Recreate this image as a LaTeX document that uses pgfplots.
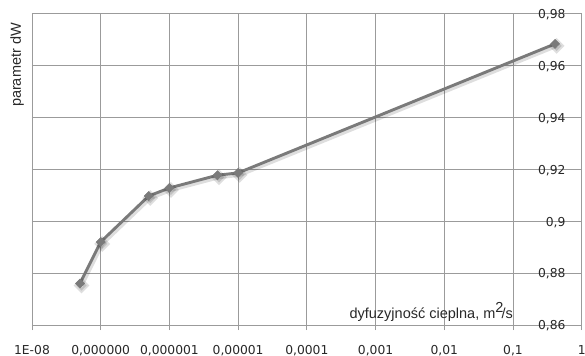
\documentclass[border=0pt]{standalone}
\usepackage{pgfplots}
\pgfplotsset{compat=1.18}
\usepackage{fontspec}
\setmainfont{DejaVu Sans}
\newfontfamily\titlefont{Liberation Sans}
\definecolor{gridc}{RGB}{155,155,155}
\definecolor{linec}{RGB}{122,122,122}
\definecolor{txt}{RGB}{40,40,40}
\begin{document}
\begin{tikzpicture}
\path[use as bounding box] (-32bp,-31bp) rectangle (553bp,325bp);
\begin{axis}[
  at={(0,0)}, anchor=south west,
  scale only axis,
  width=549.7bp, height=311.5bp,
  xmode=log,
  xmin=1e-8, xmax=1,
  ymin=0.86, ymax=0.98,
  xtick={1e-8,1e-7,1e-6,1e-5,1e-4,1e-3,1e-2,1e-1,1},
  xticklabels={1E-08,{0,000000},{0,000001},{0,00001},{0,0001},{0,001},{0,01},{0,1},1},
  ytick={0.86,0.88,0.90,0.92,0.94,0.96,0.98},
  yticklabels={{0,86},{0,88},{0,9},{0,92},{0,94},{0,96},{0,98}},
  /pgf/number format/assume math mode=true,
  minor x tick num=0,
  xminorticks=false,
  grid=major,
  major grid style={gridc, line width=0.9bp},
  axis line style={gridc, line width=0.9bp},
  xtick pos=bottom,
  tick align=outside,
  major tick length=5bp,
  x tick style={gridc, line width=0.9bp},
  y tick style={draw=none},
  yticklabel pos=right,
  tick label style={font=\fontsize{12.3bp}{14bp}\selectfont, text=txt},
  xticklabel style={anchor=base, yshift=-24bp, inner sep=0pt},
  yticklabel style={anchor=east, xshift=-21bp, yshift=-1bp, inner sep=0pt},
  clip=false,
]
\addplot[black, opacity=0.13, line width=4bp, mark=square*, mark size=3.6bp,
  mark options={rotate=45, solid}, xshift=1.5bp, yshift=-2bp] coordinates {
  (5e-8,0.876) (1e-7,0.892) (5e-7,0.9097) (1e-6,0.9128) (5e-6,0.9177) (1e-5,0.9186) (0.41,0.9683)
};
\addplot[linec, line width=2.9bp, mark=square*, mark size=3.2bp,
  mark options={rotate=45, solid, fill=linec, draw=linec, line width=0.5bp}] coordinates {
  (5e-8,0.876) (1e-7,0.892) (5e-7,0.9097) (1e-6,0.9128) (5e-6,0.9177) (1e-5,0.9186) (0.41,0.9683)
};
\node[anchor=base east, inner sep=0pt, text=txt, font=\titlefont\fontsize{14.5bp}{16bp}\selectfont]
  at (axis cs:0.1,0.86) [yshift=7bp] {dyfuzyjność cieplna, m\raisebox{6bp}{2}\kern-2bp/s};
\node[rotate=90, anchor=base east, inner sep=0pt, text=txt, font=\titlefont\fontsize{14.5bp}{16bp}\selectfont]
  at (rel axis cs:-0.02,0.9695) {parametr dW};
\end{axis}
\end{tikzpicture}
\end{document}
